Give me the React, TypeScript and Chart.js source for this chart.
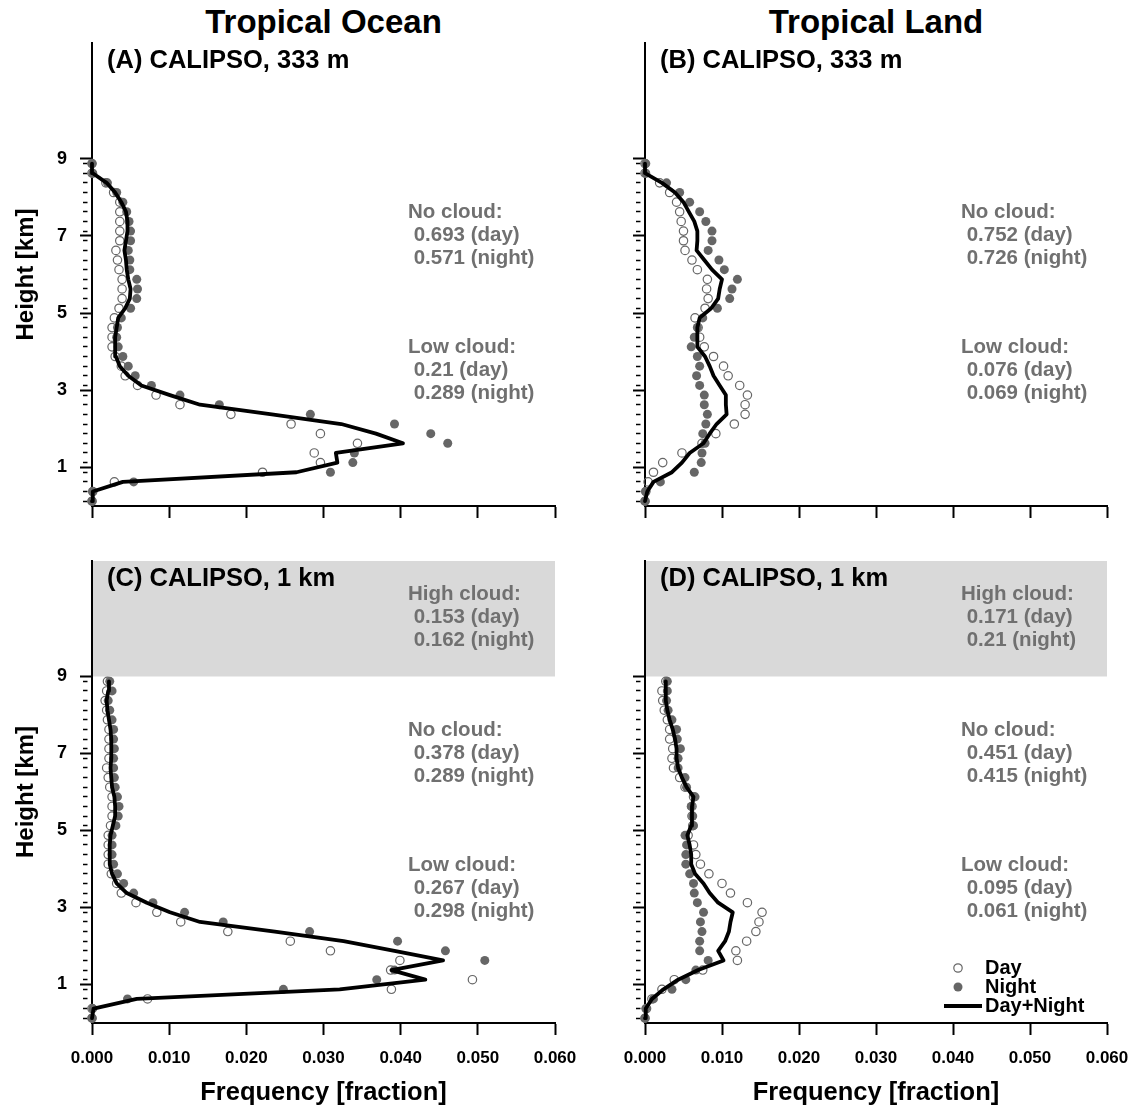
import React, { useEffect, useRef } from 'react';
import { Chart, registerables } from 'chart.js';

Chart.register(...registerables);

const FONT = '"Liberation Sans", Arial, Helvetica, sans-serif';

// Height bins (km), bottom to top
const HEIGHTS = [0.125, 0.375, 0.625, 0.875, 1.125, 1.375, 1.625, 1.875, 2.125, 2.375, 2.625, 2.875,
  3.125, 3.375, 3.625, 3.875, 4.125, 4.375, 4.625, 4.875, 5.125, 5.375, 5.625, 5.875,
  6.125, 6.375, 6.625, 6.875, 7.125, 7.375, 7.625, 7.875, 8.125, 8.375, 8.625, 8.875];
const Y_MAJOR_TICKS = [1, 3, 5, 7, 9];
const X_TICKS = [0, 0.01, 0.02, 0.03, 0.04, 0.05, 0.06];

// (A) Tropical Ocean, CALIPSO 333 m
const A_DAY = [0.0000, 0.0001, 0.0029, 0.0221, 0.0296, 0.0288, 0.0344, 0.0296, 0.0258, 0.0180, 0.0114, 0.0083,
  0.0059, 0.0043, 0.0038, 0.0030, 0.0026, 0.0026, 0.0026, 0.0029, 0.0035, 0.0039, 0.0039, 0.0039,
  0.0035, 0.0033, 0.0031, 0.0036, 0.0036, 0.0036, 0.0036, 0.0036, 0.0028, 0.0018, 0.0000, 0.0000];
const A_NIGHT = [0.0000, 0.0001, 0.0054, 0.0309, 0.0338, 0.0340, 0.0461, 0.0439, 0.0392, 0.0283, 0.0165, 0.0114,
  0.0077, 0.0056, 0.0047, 0.0040, 0.0034, 0.0032, 0.0033, 0.0038, 0.0050, 0.0058, 0.0059, 0.0058,
  0.0049, 0.0049, 0.0047, 0.0050, 0.0050, 0.0048, 0.0045, 0.0040, 0.0032, 0.0020, 0.0001, 0.0000];
const A_ALL = [0.0000, 0.0001, 0.0040, 0.0265, 0.0318, 0.0316, 0.0403, 0.0368, 0.0323, 0.0233, 0.0140, 0.0101,
  0.0064, 0.0047, 0.0036, 0.0031, 0.0030, 0.0030, 0.0032, 0.0034, 0.0043, 0.0049, 0.0050, 0.0047,
  0.0045, 0.0044, 0.0042, 0.0044, 0.0046, 0.0046, 0.0044, 0.0038, 0.0030, 0.0019, 0.0001, 0.0000];

// (B) Tropical Land, CALIPSO 333 m
const B_DAY = [0.0000, 0.0001, 0.0004, 0.0011, 0.0023, 0.0048, 0.0074, 0.0092, 0.0116, 0.0130, 0.0130, 0.0133,
  0.0123, 0.0108, 0.0102, 0.0089, 0.0077, 0.0071, 0.0069, 0.0065, 0.0078, 0.0082, 0.0080, 0.0081,
  0.0068, 0.0061, 0.0052, 0.0050, 0.0050, 0.0047, 0.0045, 0.0041, 0.0032, 0.0019, 0.0000, 0.0000];
const B_NIGHT = [0.0000, 0.0001, 0.0020, 0.0064, 0.0073, 0.0074, 0.0078, 0.0075, 0.0079, 0.0081, 0.0077, 0.0077,
  0.0071, 0.0067, 0.0071, 0.0068, 0.0060, 0.0064, 0.0068, 0.0075, 0.0094, 0.0110, 0.0113, 0.0120,
  0.0103, 0.0096, 0.0082, 0.0087, 0.0087, 0.0079, 0.0071, 0.0058, 0.0045, 0.0028, 0.0001, 0.0001];
const B_ALL = [0.0000, 0.0003, 0.0011, 0.0035, 0.0048, 0.0058, 0.0076, 0.0084, 0.0093, 0.0106, 0.0105, 0.0105,
  0.0097, 0.0089, 0.0084, 0.0078, 0.0068, 0.0068, 0.0068, 0.0071, 0.0086, 0.0095, 0.0097, 0.0100,
  0.0087, 0.0077, 0.0067, 0.0068, 0.0068, 0.0064, 0.0057, 0.0050, 0.0039, 0.0022, 0.0000, 0.0000];

// (C) Tropical Ocean, CALIPSO 1 km
const C_DAY = [0.0000, 0.0000, 0.0072, 0.0388, 0.0493, 0.0387, 0.0399, 0.0309, 0.0257, 0.0176, 0.0115, 0.0084,
  0.0057, 0.0038, 0.0032, 0.0025, 0.0021, 0.0021, 0.0021, 0.0021, 0.0024, 0.0026, 0.0026, 0.0026,
  0.0023, 0.0021, 0.0019, 0.0022, 0.0022, 0.0022, 0.0022, 0.0020, 0.0019, 0.0017, 0.0019, 0.0020];
const C_NIGHT = [0.0000, 0.0001, 0.0046, 0.0248, 0.0369, 0.0392, 0.0509, 0.0458, 0.0396, 0.0282, 0.0170, 0.0120,
  0.0079, 0.0054, 0.0041, 0.0033, 0.0028, 0.0026, 0.0026, 0.0026, 0.0031, 0.0034, 0.0035, 0.0033,
  0.0030, 0.0029, 0.0028, 0.0028, 0.0029, 0.0028, 0.0028, 0.0026, 0.0023, 0.0021, 0.0026, 0.0023];
const C_ALL = [0.0000, 0.0002, 0.0058, 0.0321, 0.0432, 0.0388, 0.0455, 0.0392, 0.0326, 0.0237, 0.0140, 0.0101,
  0.0071, 0.0045, 0.0032, 0.0026, 0.0023, 0.0023, 0.0023, 0.0024, 0.0027, 0.0030, 0.0030, 0.0029,
  0.0026, 0.0025, 0.0024, 0.0025, 0.0025, 0.0025, 0.0024, 0.0022, 0.0020, 0.0019, 0.0021, 0.0022];

// (D) Tropical Land, CALIPSO 1 km
const D_DAY = [0.0000, 0.0002, 0.0009, 0.0022, 0.0038, 0.0075, 0.0120, 0.0118, 0.0132, 0.0144, 0.0148, 0.0152,
  0.0133, 0.0111, 0.0100, 0.0083, 0.0072, 0.0066, 0.0063, 0.0056, 0.0062, 0.0061, 0.0061, 0.0063,
  0.0052, 0.0045, 0.0037, 0.0035, 0.0036, 0.0032, 0.0032, 0.0029, 0.0025, 0.0023, 0.0022, 0.0027];
const D_NIGHT = [0.0000, 0.0001, 0.0011, 0.0035, 0.0053, 0.0066, 0.0082, 0.0071, 0.0071, 0.0074, 0.0072, 0.0076,
  0.0068, 0.0064, 0.0063, 0.0058, 0.0053, 0.0053, 0.0054, 0.0052, 0.0063, 0.0062, 0.0060, 0.0065,
  0.0054, 0.0052, 0.0043, 0.0043, 0.0046, 0.0042, 0.0041, 0.0035, 0.0030, 0.0028, 0.0029, 0.0029];
const D_ALL = [0.0000, 0.0001, 0.0009, 0.0024, 0.0043, 0.0069, 0.0102, 0.0095, 0.0104, 0.0109, 0.0111, 0.0114,
  0.0095, 0.0084, 0.0076, 0.0065, 0.0060, 0.0060, 0.0058, 0.0055, 0.0060, 0.0061, 0.0061, 0.0063,
  0.0054, 0.0048, 0.0043, 0.0041, 0.0041, 0.0039, 0.0036, 0.0032, 0.0029, 0.0027, 0.0027, 0.0027];

// Annotation texts
const A_NO = ['No cloud:', ' 0.693 (day)', ' 0.571 (night)'];
const A_LOW = ['Low cloud:', ' 0.21 (day)', ' 0.289 (night)'];
const B_NO = ['No cloud:', ' 0.752 (day)', ' 0.726 (night)'];
const B_LOW = ['Low cloud:', ' 0.076 (day)', ' 0.069 (night)'];
const C_HIGH = ['High cloud:', ' 0.153 (day)', ' 0.162 (night)'];
const C_NO = ['No cloud:', ' 0.378 (day)', ' 0.289 (night)'];
const C_LOW = ['Low cloud:', ' 0.267 (day)', ' 0.298 (night)'];
const D_HIGH = ['High cloud:', ' 0.171 (day)', ' 0.21 (night)'];
const D_NO = ['No cloud:', ' 0.451 (day)', ' 0.415 (night)'];
const D_LOW = ['Low cloud:', ' 0.095 (day)', ' 0.061 (night)'];

const LEGEND_LABELS = ['Day', 'Night', 'Day+Night'];

const Y_TICKS = [...HEIGHTS, ...Y_MAJOR_TICKS].sort((a, b) => a - b);
const isMajor = (v: number) => Y_MAJOR_TICKS.includes(v);
const toPts = (vals: number[]) => vals.map((v, i) => ({ x: v, y: HEIGHTS[i] }));

type PanelProps = {
  left: number; top: number; width: number; height: number; xAxisHeight: number; padRight: number;
  day: number[]; night: number[]; all: number[];
  label: string; high?: string[]; none: string[]; low: string[];
  showY: boolean; showX: boolean; legend?: boolean;
};

function Panel(p: PanelProps) {
  const ref = useRef<HTMLCanvasElement | null>(null);
  useEffect(() => {
    if (!ref.current) return;
    const decor = {
      id: 'decor',
      beforeDraw(chart: any) {
        if (!p.high) return;
        const { ctx, chartArea } = chart;
        const y = chart.scales.y;
        const y12 = y.getPixelForValue(12);
        const y9 = y.getPixelForValue(9);
        ctx.save();
        ctx.fillStyle = '#d9d9d9';
        ctx.fillRect(chartArea.left + 1, y12, chartArea.right - chartArea.left - 1, y9 - y12);
        ctx.restore();
      },
      afterDraw(chart: any) {
        const { ctx, chartArea } = chart;
        const L = chartArea.left;
        const T = chartArea.top;
        ctx.save();
        ctx.textBaseline = 'middle';
        ctx.textAlign = 'left';
        ctx.fillStyle = '#000';
        ctx.font = `bold 25.5px ${FONT}`;
        ctx.fillText(p.label, L + 15, T + 18);
        ctx.fillStyle = '#707070';
        ctx.font = `bold 20.5px ${FONT}`;
        const blocks: [string[] | undefined, number][] = [[p.high, 33], [p.none, 169], [p.low, 304]];
        blocks.forEach(([lines, off]) => {
          if (!lines) return;
          lines.forEach((s, i) => ctx.fillText(s, L + 316, T + off + i * 23));
        });
        if (p.legend) {
          ctx.strokeStyle = '#666';
          ctx.lineWidth = 1.2;
          ctx.beginPath();
          ctx.arc(L + 313, T + 407, 4.2, 0, Math.PI * 2);
          ctx.stroke();
          ctx.fillStyle = '#666';
          ctx.beginPath();
          ctx.arc(L + 313, T + 426, 4.5, 0, Math.PI * 2);
          ctx.fill();
          ctx.strokeStyle = '#000';
          ctx.lineWidth = 3.8;
          ctx.beginPath();
          ctx.moveTo(L + 299, T + 445);
          ctx.lineTo(L + 337, T + 445);
          ctx.stroke();
          ctx.fillStyle = '#000';
          ctx.font = `bold 20px ${FONT}`;
          LEGEND_LABELS.forEach((s, i) => ctx.fillText(s, L + 340, T + 407 + i * 19));
        }
        ctx.restore();
      },
    };
    const chart = new Chart(ref.current, {
      type: 'scatter',
      data: {
        datasets: [
          {
            label: 'Day+Night', data: toPts(p.all), showLine: true, borderColor: '#000', borderWidth: 3.8,
            pointRadius: 0, fill: false, clip: false as any, order: 0, tension: 0,
            borderJoinStyle: 'round', borderCapStyle: 'round',
          } as any,
          {
            label: 'Night', data: toPts(p.night), showLine: false, pointRadius: 4.5,
            pointBackgroundColor: '#666', pointBorderColor: '#666', pointBorderWidth: 0, clip: false as any, order: 1,
          } as any,
          {
            label: 'Day', data: toPts(p.day), showLine: false, pointRadius: 4.2,
            pointBackgroundColor: 'rgba(0,0,0,0)', pointBorderColor: '#666', pointBorderWidth: 1.2, clip: false as any, order: 2,
          } as any,
        ],
      },
      options: {
        responsive: false,
        maintainAspectRatio: false,
        animation: false,
        events: [],
        layout: { padding: { top: 15, right: p.padRight, left: 0, bottom: 0 } },
        plugins: { legend: { display: false }, tooltip: { enabled: false }, title: { display: false } },
        scales: {
          x: {
            type: 'linear', position: 'bottom', min: 0, max: 0.06,
            afterBuildTicks: (s: any) => { s.ticks = X_TICKS.map((v) => ({ value: v })); },
            afterFit: (s: any) => { s.height = p.xAxisHeight; s.paddingLeft = 0; s.paddingRight = 0; },
            ticks: {
              autoSkip: false, maxRotation: 0, color: '#000', padding: 13,
              font: { family: FONT, size: 17, weight: 'bold' },
              callback: (v: any) => (p.showX ? Number(v).toFixed(3) : ''),
            },
            grid: { display: true, drawOnChartArea: false, drawTicks: true, tickLength: 12, tickColor: '#000', tickWidth: 2 },
            border: { display: true, color: '#000', width: 2 },
            title: {
              display: p.showX, text: 'Frequency [fraction]', color: '#000',
              font: { family: FONT, size: 25.5, weight: 'bold' }, padding: { top: 0, bottom: 0 },
            },
          },
          y: {
            type: 'linear', position: 'left', min: 0, max: 12,
            afterBuildTicks: (s: any) => { s.ticks = Y_TICKS.map((v) => ({ value: v })); },
            afterFit: (s: any) => { s.width = 92; s.paddingTop = 0; s.paddingBottom = 0; },
            ticks: {
              autoSkip: false, color: '#000', padding: 13, font: { family: FONT, size: 18, weight: 'bold' },
              callback: (v: any) => (p.showY && isMajor(Number(v)) ? String(v) : ''),
            },
            grid: {
              display: true, drawOnChartArea: false, drawTicks: true, tickLength: 12, tickColor: '#000',
              tickWidth: (c: any) => (c.tick && isMajor(c.tick.value) ? 2 : 1.6),
              tickBorderDash: (c: any) => (c.tick && isMajor(c.tick.value) ? [] : [0, 3, 4.5, 60]),
            } as any,
            border: { display: true, color: '#000', width: 2 },
            title: {
              display: p.showY, text: 'Height [km]', color: '#000',
              font: { family: FONT, size: 24, weight: 'bold' }, padding: { top: 12, bottom: 0 },
            },
          },
        },
      } as any,
      plugins: [decor],
    });
    return () => chart.destroy();
  }, []);
  return (
    <canvas
      ref={ref}
      width={p.width}
      height={p.height}
      style={{ position: 'absolute', left: p.left, top: p.top, width: p.width, height: p.height }}
    />
  );
}

const titleStyle = (left: number, width: number): React.CSSProperties => ({
  position: 'absolute', left, top: 6, width, textAlign: 'center',
  font: `bold 33px ${FONT}`, lineHeight: '32px', color: '#000',
});

export default function App() {
  return (
    <div style={{ position: 'absolute', left: 0, top: 0, width: 1138, height: 1108, background: '#fff', overflow: 'hidden' }}>
      <div style={titleStyle(92, 463)}>Tropical Ocean</div>
      <div style={titleStyle(645, 462)}>Tropical Land</div>
      <Panel left={0} top={28} width={585} height={498} xAxisHeight={20} padRight={30}
        day={A_DAY} night={A_NIGHT} all={A_ALL} label="(A) CALIPSO, 333 m" none={A_NO} low={A_LOW}
        showY={true} showX={false} />
      <Panel left={553} top={28} width={585} height={498} xAxisHeight={20} padRight={31}
        day={B_DAY} night={B_NIGHT} all={B_ALL} label="(B) CALIPSO, 333 m" none={B_NO} low={B_LOW}
        showY={false} showX={false} />
      <Panel left={0} top={546} width={585} height={562} xAxisHeight={85} padRight={30}
        day={C_DAY} night={C_NIGHT} all={C_ALL} label="(C) CALIPSO, 1 km" high={C_HIGH} none={C_NO} low={C_LOW}
        showY={true} showX={true} />
      <Panel left={553} top={546} width={585} height={562} xAxisHeight={85} padRight={31}
        day={D_DAY} night={D_NIGHT} all={D_ALL} label="(D) CALIPSO, 1 km" high={D_HIGH} none={D_NO} low={D_LOW}
        showY={false} showX={true} legend={true} />
    </div>
  );
}
